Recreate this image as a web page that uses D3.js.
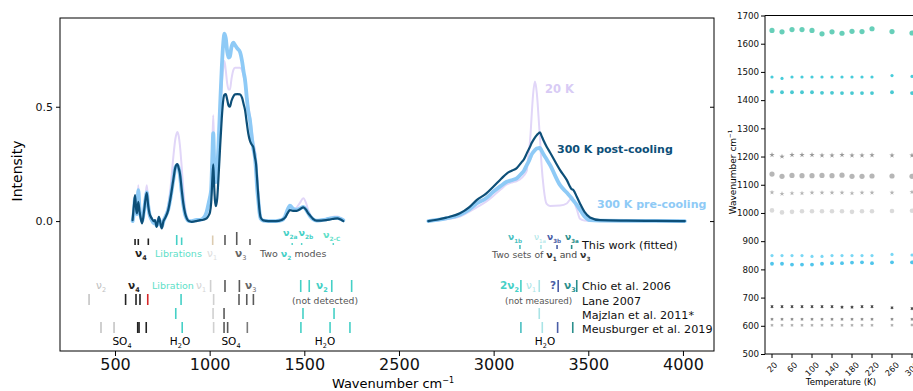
<!DOCTYPE html>
<html>
<head>
<meta charset="utf-8">
<script src="https://cdn.jsdelivr.net/npm/d3@7"></script>
<style>
  body { margin: 0; background: #fff; }
  svg { font-family: "DejaVu Sans", sans-serif; }
</style>
</head>
<body>
<svg id="fig" width="913" height="391"></svg>
<script>
// ---------- spectra (left panel) ----------
const waveLow = [593, 600, 606, 612, 616, 623, 630, 636, 643, 653, 662, 668, 675, 682, 694, 705, 711, 720, 727, 732, 740, 747, 756, 764, 781, 795, 808, 819, 829, 837, 843, 852, 861, 870, 879, 890, 905, 930, 949, 966, 984, 995, 1002, 1008, 1014, 1019, 1024, 1028, 1033, 1040, 1046, 1055, 1064, 1072, 1078, 1085, 1093, 1100, 1107, 1115, 1125, 1134, 1146, 1160, 1171, 1180, 1187, 1196, 1204, 1213, 1222, 1230, 1239, 1245, 1251, 1257, 1263, 1270, 1283, 1310, 1350, 1380, 1398, 1412, 1424, 1440, 1460, 1477, 1495, 1509, 1520, 1530, 1546, 1565, 1590, 1615, 1640, 1660, 1675, 1690, 1706];
const postLow = [0.004, 0.07, 0.114, 0.05, 0.034, 0.084, 0.04, 0.012, -0.01, 0.04, 0.1, 0.124, 0.07, 0.034, 0.012, 0.0, 0.004, -0.025, 0.0, 0.019, -0.01, -0.032, 0.0, 0.012, 0.048, 0.11, 0.18, 0.235, 0.249, 0.23, 0.208, 0.14, 0.077, 0.035, 0.012, 0.0, -0.003, 0.0, 0.004, 0.006, 0.012, 0.025, 0.04, 0.08, 0.18, 0.248, 0.15, 0.09, 0.065, 0.1, 0.18, 0.32, 0.45, 0.53, 0.552, 0.555, 0.53, 0.505, 0.5, 0.525, 0.545, 0.554, 0.555, 0.554, 0.54, 0.51, 0.485, 0.43, 0.383, 0.35, 0.335, 0.325, 0.28, 0.25, 0.18, 0.11, 0.05, 0.015, 0.003, 0.0, 0.0, 0.005, 0.015, 0.035, 0.048, 0.045, 0.045, 0.052, 0.06, 0.05, 0.035, 0.025, 0.01, 0.002, 0.002, 0.004, 0.008, 0.011, 0.012, 0.008, 0.0];
const preLow = [0.0, 0.04, 0.1, 0.06, 0.03, 0.135, 0.05, 0.02, 0.0, 0.045, 0.1, 0.125, 0.07, 0.03, 0.005, -0.01, -0.005, -0.02, -0.005, 0.01, -0.01, -0.025, 0.0, 0.015, 0.05, 0.11, 0.18, 0.235, 0.245, 0.23, 0.2, 0.13, 0.07, 0.03, 0.01, 0.0, 0.0, 0.005, 0.005, 0.012, 0.04, 0.08, 0.106, 0.14, 0.28, 0.385, 0.25, 0.19, 0.17, 0.23, 0.32, 0.5, 0.67, 0.78, 0.82, 0.8, 0.74, 0.715, 0.72, 0.76, 0.78, 0.77, 0.755, 0.74, 0.7, 0.65, 0.617, 0.54, 0.48, 0.44, 0.37, 0.32, 0.28, 0.22, 0.14, 0.09, 0.04, 0.01, 0.002, 0.0, 0.0, 0.004, 0.02, 0.05, 0.068, 0.055, 0.05, 0.055, 0.062, 0.05, 0.035, 0.022, 0.008, 0.002, 0.004, 0.007, 0.012, 0.014, 0.014, 0.01, 0.004];
const coldLow = [0.0, 0.02, 0.07, 0.04, 0.03, 0.157, 0.05, 0.03, 0.01, 0.06, 0.12, 0.157, 0.09, 0.04, 0.01, 0.0, 0.005, -0.01, 0.005, 0.01, -0.005, -0.015, 0.005, 0.02, 0.07, 0.16, 0.28, 0.36, 0.39, 0.37, 0.33, 0.24, 0.14, 0.06, 0.02, 0.005, 0.0, 0.0, 0.0, 0.01, 0.03, 0.07, 0.1, 0.15, 0.32, 0.463, 0.3, 0.22, 0.2, 0.26, 0.33, 0.48, 0.6, 0.67, 0.7, 0.66, 0.6, 0.575, 0.575, 0.62, 0.66, 0.67, 0.67, 0.67, 0.66, 0.63, 0.6, 0.55, 0.5, 0.46, 0.4, 0.35, 0.31, 0.27, 0.2, 0.13, 0.06, 0.02, 0.004, 0.0, 0.0, 0.004, 0.015, 0.035, 0.05, 0.05, 0.06, 0.08, 0.1, 0.08, 0.05, 0.03, 0.01, 0.003, 0.005, 0.01, 0.016, 0.02, 0.02, 0.014, 0.006];

const waveHigh = [2655, 2700, 2750, 2822, 2870, 2910, 2960, 2998, 3040, 3069, 3100, 3122, 3150, 3160, 3175, 3180, 3195, 3200, 3208, 3218, 3228, 3232, 3240, 3245, 3252, 3265, 3280, 3298, 3351, 3386, 3412, 3421, 3440, 3456, 3480, 3509, 3562, 3700, 3850, 4010];
const postHigh = [0.0, 0.006, 0.015, 0.034, 0.06, 0.092, 0.12, 0.15, 0.185, 0.208, 0.222, 0.232, 0.26, 0.27, 0.296, 0.305, 0.33, 0.34, 0.352, 0.365, 0.376, 0.38, 0.386, 0.388, 0.375, 0.35, 0.325, 0.3, 0.223, 0.18, 0.14, 0.136, 0.105, 0.077, 0.04, 0.016, 0.004, 0.002, 0.001, 0.0];
const preHigh = [0.0, 0.005, 0.012, 0.028, 0.05, 0.077, 0.1, 0.128, 0.155, 0.172, 0.18, 0.187, 0.21, 0.22, 0.245, 0.252, 0.28, 0.29, 0.3, 0.31, 0.317, 0.318, 0.32, 0.32, 0.31, 0.29, 0.27, 0.245, 0.157, 0.125, 0.1, 0.09, 0.07, 0.05, 0.02, 0.004, 0.002, 0.001, 0.001, 0.0];
const coldHigh = [0.0, 0.002, 0.008, 0.02, 0.04, 0.06, 0.085, 0.11, 0.14, 0.16, 0.17, 0.175, 0.19, 0.2, 0.22, 0.26, 0.38, 0.45, 0.55, 0.61, 0.56, 0.52, 0.42, 0.36, 0.26, 0.14, 0.075, 0.066, 0.068, 0.077, 0.1, 0.09, 0.05, 0.01, 0.002, 0.0, 0.0, 0.0, 0.0, 0.0];

// ---------- band assignments (tick rows) ----------
const twWave = [606, 623, 676, 826, 852, 1016, 1081, 1143, 1213];
const twKind = ["v4", "v4", "v4", "h2o", "h2o", "v1w", "v3", "v3", "v3"];
const twAmp = [0.3, 0.3, 0.35, 0.7, 0.45, 0.65, 0.7, 1.0, 0.3];
const twV2Wave = [1436, 1486, 1653];
const twOHWave = [3139, 3250, 3335, 3412];
const twOHKind = ["v1b", "v1a", "v3b", "v3a"];

const chioWave = [1005, 1081, 1157, 1481, 1526, 1645, 1750, 3144, 3241, 3341, 3439];
const chioKind = ["v1", "v3", "v3", "h2o", "h2o", "h2o", "h2o", "h2o", "v1a", "v3b", "v3a"];
const laneWave = [363, 556, 611, 632, 673, 849, 1021, 1155, 1196, 1231];
const laneKind = ["v2", "v4", "v4", "v4", "red", "h2o", "v1", "v3", "v3", "v3"];
const majzWave = [821, 1018, 1076, 1493, 1657, 3241];
const majzKind = ["h2o", "v1", "v3", "h2o", "h2o", "v1a"];
const meusWave = [426, 495, 620, 627, 665, 855, 1021, 1076, 1095, 1199, 1482, 1636, 1741, 3144, 3257, 3338, 3418];
const meusKind = ["v2", "v2", "v4", "v4", "v4", "h2o", "v1", "v3", "v3", "v3m", "h2o", "h2o", "h2o", "v1b", "v1a", "v3b", "v3a"];

const xTickWaves = [500, 1000, 1500, 2500, 3000, 3500, 4000];
const yTicks = [0, 0.5];

// ---------- peak positions vs temperature (right panel) ----------
const tempK = [20, 40, 60, 80, 100, 120, 140, 160, 180, 200, 220, 260, 300];
const band1640 = [1647, 1642, 1650, 1650, 1647, 1635, 1642, 1637, 1644, 1643, 1653, 1643, 1638];
const band1480 = [1482, 1477, 1482, 1482, 1482, 1482, 1482, 1482, 1482, 1482, 1482, 1487, 1484];
const band1425 = [1430, 1428, 1428, 1428, 1428, 1426, 1426, 1425, 1425, 1425, 1425, 1428, 1425];
const band1200 = [1206, 1200, 1206, 1206, 1206, 1204, 1204, 1206, 1204, 1204, 1205, 1204, 1204];
const band1130 = [1138, 1130, 1133, 1132, 1132, 1133, 1132, 1134, 1130, 1130, 1131, 1131, 1130];
const band1070 = [1073, 1068, 1070, 1070, 1072, 1072, 1072, 1072, 1070, 1072, 1072, 1072, 1074];
const band1000 = [1009, 1002, 1004, 1006, 1006, 1006, 1006, 1006, 1004, 1006, 1006, 1007, 1008];
const band850 = [849, 849, 849, 849, 846, 846, 849, 849, 849, 849, 849, 853, 851];
const band820 = [820, 820, 817, 817, 817, 820, 822, 822, 824, 825, 822, 825, 825];
const band668 = [668, 668, 668, 668, 668, 668, 668, 666, 666, 668, 668, 664, 661];
const band622 = [623, 623, 623, 623, 623, 623, 623, 623, 623, 623, 623, 623, 623];
const band603 = [602, 602, 602, 602, 602, 602, 602, 602, 602, 602, 602, 602, 603];
const yTicksR = [500, 600, 700, 800, 900, 1000, 1100, 1200, 1300, 1400, 1500, 1600, 1700];
const xTicksR = [20, 60, 100, 140, 180, 220, 260, 300];

// ---------- colours ----------
const col = {
  post: "#0d4f78", pre: "#8ecaf6", cold: "#e1d6f8",
  v1: "#d0d0d0", v1w: "#dccbb0", v2: "#c4c4c4", v3: "#5a5a5a", v3m: "#7a7a7a", v4: "#222",
  h2o: "#45d0c6", lib: "#5ee0c8", red: "#d62728",
  v1b: "#49bfc1", v1a: "#a9e4e6", v3b: "#4a5ea6", v3a: "#2b8f8c"
};

const svg = d3.select("#fig");
svg.append("rect").attr("width", 913).attr("height", 391).attr("fill", "#fff");

// left panel scales (the empty 1750-2650 stretch is cut out of the axis)
const fold = w => w > 2000 ? w - 500 : w;
const x = d3.scaleLinear().domain([209.5, 3664]).range([60, 714]);
const X = w => x(fold(w));
const y = d3.scaleLinear().domain([-0.568, 0.888]).range([351, 18]);

const left = svg.append("g");

function label(g, px, py, parts, size, anchor) {
  const t = g.append("text").attr("x", px).attr("y", py)
      .attr("font-size", size).attr("text-anchor", anchor || "start");
  let shift = 0;
  parts.forEach(p => {
    const s = t.append("tspan").text(p.t);
    const target = p.sub ? size * 0.32 : p.sup ? -size * 0.42 : 0;
    s.attr("dy", target - shift);
    shift = target;
    if (p.sub || p.sup) s.attr("font-size", size * 0.62);
    if (p.b) s.attr("font-weight", "bold");
    if (p.c) s.attr("fill", p.c);
  });
  return t;
}

// spectra
const line = d3.line().x(d => X(d[0])).y(d => y(d[1])).curve(d3.curveMonotoneX);
const series = [
  {lo: coldLow, hi: coldHigh, c: col.cold, w: 2},
  {lo: preLow, hi: preHigh, c: col.pre, w: 3.8},
  {lo: postLow, hi: postHigh, c: col.post, w: 2.2}
];
series.forEach(s => {
  [[waveLow, s.lo], [waveHigh, s.hi]].forEach(([ws, vs]) => {
    left.append("path")
        .attr("d", line(ws.map((w, i) => [w, vs[i]])))
        .attr("fill", "none")
        .attr("stroke", s.c)
        .attr("stroke-width", s.w)
        .attr("stroke-linejoin", "round")
        .attr("stroke-linecap", "round");
  });
});

label(left, 545, 93, [{t: "20 K", b: 1, c: "#d8cbf5"}], 11.5);
label(left, 557, 153, [{t: "300 K post-cooling", b: 1, c: col.post}], 11);
label(left, 597, 208, [{t: "300 K pre-cooling", b: 1, c: col.pre}], 11);

// tick rows
function tickRow(waves, kinds, y0, y1, lens) {
  left.append("g").selectAll("line").data(waves).join("line")
      .attr("x1", d => X(d)).attr("x2", d => X(d))
      .attr("y1", (d, i) => lens ? y1 - lens[i] : y0).attr("y2", y1)
      .attr("stroke", (d, i) => col[kinds[i]])
      .attr("stroke-width", 1.6);
}
tickRow(twWave, twKind, 238, 245, twAmp.map(a => 3 + 10 * a));
tickRow(twOHWave, twOHKind, 245, 249);
tickRow(chioWave, chioKind, 280, 292);
tickRow(laneWave, laneKind, 294, 305);
tickRow(majzWave, majzKind, 308, 319);
tickRow(meusWave, meusKind, 322, 333);
left.append("g").selectAll("circle").data(twV2Wave).join("circle")
    .attr("cx", d => X(d)).attr("cy", 244).attr("r", 0.9).attr("fill", col.h2o);

// row labels
const fs = 9.5;
label(left, X(606), 257, [{t: "ν", b: 1, c: col.v4}, {t: "4", sub: 1, b: 1, c: col.v4}], 10.5);
label(left, 155, 257, [{t: "Librations", c: col.lib}], fs);
label(left, 207, 257, [{t: "ν", c: "#ddd"}, {t: "1", sub: 1, c: "#ddd"}], 10.5);
label(left, 235, 257, [{t: "ν", b: 1, c: "#666"}, {t: "3", sub: 1, c: "#666"}], 10.5);
label(left, 260, 257, [{t: "Two ", c: "#555"}, {t: "ν", b: 1, c: col.h2o}, {t: "2", sub: 1, b: 1, c: col.h2o}, {t: " modes", c: "#555"}], fs);
label(left, 283, 236, [{t: "ν", b: 1, c: col.h2o}, {t: "2a", sub: 1, b: 1, c: col.h2o}], 9.5);
label(left, 298.5, 236, [{t: "ν", b: 1, c: col.h2o}, {t: "2b", sub: 1, b: 1, c: col.h2o}], 9.5);
label(left, 323, 238, [{t: "ν", b: 1, c: col.lib}, {t: "2-C", sub: 1, b: 1, c: col.lib}], 9.5);

label(left, 508, 240, [{t: "ν", b: 1, c: col.v1b}, {t: "1b", sub: 1, b: 1, c: col.v1b}], 9);
label(left, 534, 240, [{t: "ν", c: col.v1a}, {t: "1a", sub: 1, c: col.v1a}], 9);
label(left, 547, 240, [{t: "ν", b: 1, c: col.v3b}, {t: "3b", sub: 1, b: 1, c: col.v3b}], 9);
label(left, 565, 240, [{t: "ν", b: 1, c: col.v3a}, {t: "3a", sub: 1, b: 1, c: col.v3a}], 9);
label(left, 492, 258, [{t: "Two sets of ", c: "#555"}, {t: "ν", b: 1, c: "#333"}, {t: "1", sub: 1, b: 1, c: "#333"}, {t: " and ", c: "#444"}, {t: "ν", b: 1, c: "#333"}, {t: "3", sub: 1, b: 1, c: "#333"}], 9.3);

label(left, 96, 289, [{t: "ν", c: "#c0c0c0"}, {t: "2", sub: 1, c: "#c0c0c0"}], 10.5);
label(left, 128, 289, [{t: "ν", b: 1, c: col.v4}, {t: "4", sub: 1, b: 1, c: col.v4}], 10.5);
label(left, 152, 289, [{t: "Libration", c: col.lib}], fs);
label(left, 196, 289, [{t: "ν", c: "#d4d4d4"}, {t: "1", sub: 1, c: "#d4d4d4"}], 10.5);
label(left, 245, 289, [{t: "ν", b: 1, c: "#666"}, {t: "3", sub: 1, c: "#666"}], 10.5);
label(left, 316, 289, [{t: "ν", b: 1, c: col.h2o}, {t: "2", sub: 1, b: 1, c: col.h2o}], 10.5);
label(left, 500, 289, [{t: "2ν", b: 1, c: col.h2o}, {t: "2", sub: 1, b: 1, c: col.h2o}], 10.5);
label(left, 526, 289, [{t: "ν", c: col.v1a}, {t: "1", sub: 1, c: col.v1a}], 10.5);
label(left, 550, 289, [{t: "?", b: 1, c: col.v3b}], 10.5);
label(left, 564, 289, [{t: "ν", b: 1, c: col.v3a}, {t: "3", sub: 1, b: 1, c: col.v3a}], 10.5);
label(left, 292, 304, [{t: "(not detected)", c: "#555"}], 9.2);
label(left, 505, 304, [{t: "(not measured)", c: "#555"}], 8.7);

const refs = ["This work (fitted)", "Chio et al. 2006", "Lane 2007", "Majzlan et al. 2011*", "Meusburger et al. 2019"];
const refY = [249, 290, 305, 319, 333];
refs.forEach((r, i) => label(left, 582, refY[i], [{t: r, c: "#111"}], 11.2));

label(left, 122, 345, [{t: "SO"}, {t: "4", sub: 1}], 10.5, "middle");
label(left, 180, 345, [{t: "H"}, {t: "2", sub: 1}, {t: "O"}], 10.5, "middle");
label(left, 231, 345, [{t: "SO"}, {t: "4", sub: 1}], 10.5, "middle");
label(left, 325, 345, [{t: "H"}, {t: "2", sub: 1}, {t: "O"}], 10.5, "middle");
label(left, 545, 345, [{t: "H"}, {t: "2", sub: 1}, {t: "O"}], 10.5, "middle");

// axes (left)
left.append("g").attr("transform", "translate(0,351)")
    .call(d3.axisBottom(x).tickValues(xTickWaves.map(fold)).tickFormat((d, i) => xTickWaves[i]).tickSize(5).tickPadding(3))
    .call(g => g.select(".domain").remove())
    .call(g => g.selectAll("text").attr("font-size", 16).attr("font-family", "DejaVu Sans").attr("fill", "#111"));
left.append("g").attr("transform", "translate(60,0)")
    .call(d3.axisLeft(y).tickValues(yTicks).tickFormat(d3.format(".1f")).tickSize(4).tickPadding(3))
    .call(g => g.select(".domain").remove())
    .call(g => g.selectAll("text").attr("font-size", 11).attr("font-family", "DejaVu Sans").attr("fill", "#111"));
left.append("g").attr("transform", "translate(714,0)")
    .call(d3.axisLeft(y).tickValues(yTicks).tickFormat("").tickSize(4))
    .call(g => g.select(".domain").remove());
left.append("rect").attr("x", 60).attr("y", 18).attr("width", 654).attr("height", 333)
    .attr("fill", "none").attr("stroke", "#000").attr("stroke-width", 1);

label(left, 393, 388, [{t: "Wavenumber cm"}, {t: "−1", sup: 1}], 13, "middle");
left.append("text").attr("transform", "translate(22,171) rotate(-90)")
    .attr("text-anchor", "middle").attr("font-size", 14).text("Intensity");

// ---------- right panel ----------
const right = svg.append("g");
const xr = d3.scaleLinear().domain([6, 326]).range([765, 925]);
const yr = d3.scaleLinear().domain([500, 1700]).range([354, 15.5]);

const dots = [
  {v: band1640, c: "#4cc7ad", r: 2.6, o: 0.85},
  {v: band1480, c: "#33c6d6", r: 1.6, o: 0.9},
  {v: band1425, c: "#35c3cd", r: 1.9, o: 0.9},
  {v: band1130, c: "#a9a9a9", r: 2.6, o: 0.85},
  {v: band1000, c: "#d6d6d6", r: 2.3, o: 0.9},
  {v: band850, c: "#58cdf2", r: 1.6, o: 0.8},
  {v: band820, c: "#3dbfe9", r: 1.9, o: 0.9}
];
dots.forEach(s => {
  right.append("g").selectAll("circle").data(tempK).join("circle")
      .attr("cx", d => xr(d)).attr("cy", (d, i) => yr(s.v[i]))
      .attr("r", s.r).attr("fill", s.c).attr("fill-opacity", s.o);
});
const stars = [
  {v: band1200, c: "#9a9a9a", sym: d3.symbolStar, size: 9},
  {v: band1070, c: "#b5b5b5", sym: d3.symbolStar, size: 8},
  {v: band668, c: "#444", sym: d3.symbolCross, size: 6},
  {v: band622, c: "#8a8a8a", sym: d3.symbolCross, size: 6},
  {v: band603, c: "#b0b0b0", sym: d3.symbolCross, size: 6}
];
stars.forEach(s => {
  right.append("g").selectAll("path").data(tempK).join("path")
      .attr("d", d3.symbol(s.sym, s.size))
      .attr("transform", (d, i) => `translate(${xr(d)},${yr(s.v[i])}) rotate(${s.sym === d3.symbolCross ? 45 : 0})`)
      .attr("fill", s.c);
});

right.append("g").attr("transform", "translate(765,0)")
    .call(d3.axisLeft(yr).tickValues(yTicksR).tickFormat(d3.format("d")).tickSize(4).tickPadding(2))
    .call(g => g.select(".domain").remove())
    .call(g => g.selectAll("text").attr("font-size", 8.7).attr("font-family", "DejaVu Sans").attr("fill", "#111"));
const xa = right.append("g").attr("transform", "translate(0,354)");
xa.selectAll("line").data(xTicksR).join("line")
    .attr("x1", d => xr(d)).attr("x2", d => xr(d)).attr("y1", 0).attr("y2", 4).attr("stroke", "#000");
xa.selectAll("text").data(xTicksR).join("text")
    .attr("transform", d => {
      const L = String(d).length * 5.2;
      return `translate(${xr(d)},${7 + (L * 0.707 + 5) / 2}) rotate(-45)`;
    })
    .attr("text-anchor", "middle").attr("dominant-baseline", "central")
    .attr("font-size", 8.2).attr("fill", "#111").text(d => d);
right.append("path").attr("d", "M765,15.5V354H925M765,15.5H925")
    .attr("fill", "none").attr("stroke", "#000").attr("stroke-width", 1);
right.append("text").attr("x", 841).attr("y", 385).attr("text-anchor", "middle")
    .attr("font-size", 8.7).text("Temperature (K)");
label(right.append("g").attr("transform", "translate(736,172) rotate(-90)"), 0, 0,
    [{t: "Wavenumber cm"}, {t: "−1", sup: 1}], 9, "middle");
</script>
</body>
</html>
